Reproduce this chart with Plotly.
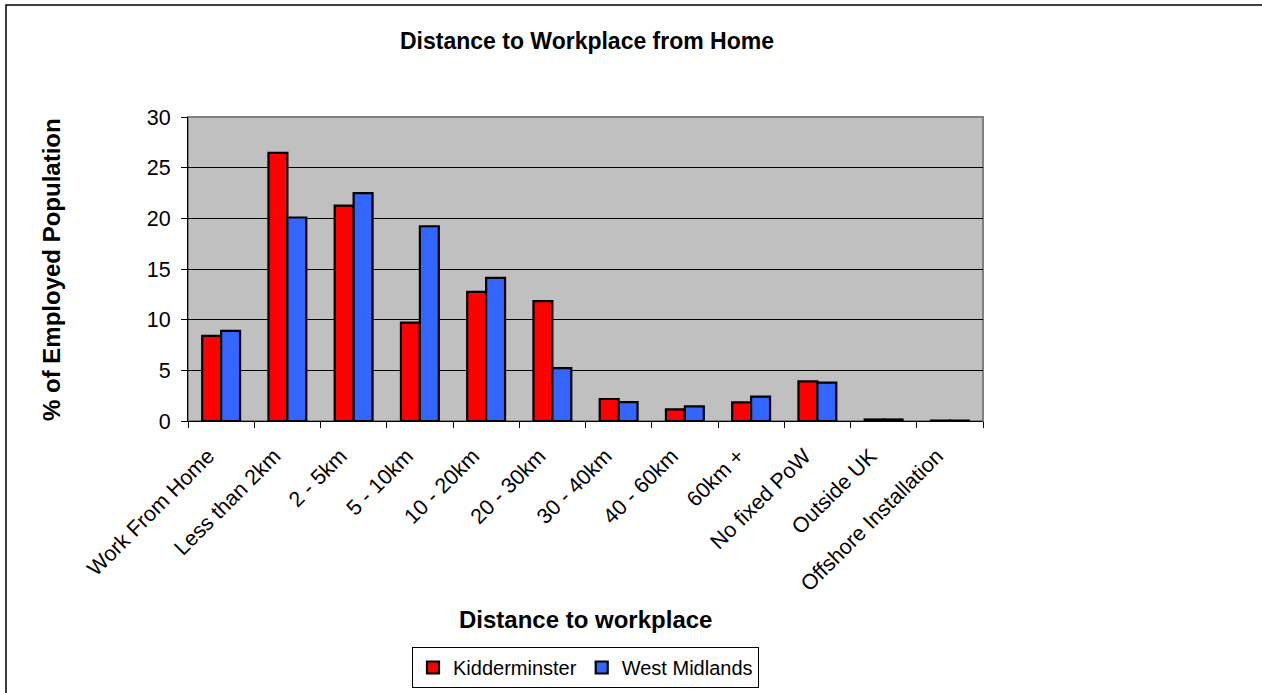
import plotly.graph_objects as go

categories = ["Work From Home", "Less than 2km", "2 - 5km", "5 - 10km", "10 - 20km",
              "20 - 30km", "30 - 40km", "40 - 60km", "60km +", "No fixed PoW",
              "Outside UK", "Offshore Installation"]
kidderminster = [8.4, 26.45, 21.26, 9.7, 12.75, 11.83, 2.17, 1.15, 1.84, 3.91, 0.15, 0.04]
west_midlands = [8.9, 20.08, 22.48, 19.22, 14.13, 5.22, 1.87, 1.45, 2.4, 3.78, 0.15, 0.04]

W, H = 1262, 693
L, R, T, B = 188, 983, 117, 421
pw, ph = R - L, B - T

def px(x):
    return (x - L) / pw

def py(y):
    return (B - y) / ph

FONT = "Liberation Sans, Arial, sans-serif"

fig = go.Figure()
fig.add_trace(go.Bar(x=categories, y=kidderminster, name="Kidderminster",
                     marker=dict(color="#FF0000", line=dict(color="black", width=2.2))))
fig.add_trace(go.Bar(x=categories, y=west_midlands, name="West Midlands",
                     marker=dict(color="#3366FF", line=dict(color="black", width=2.2))))

fig.update_layout(
    width=W, height=H,
    margin=dict(l=L, r=W - R, t=T, b=H - B, autoexpand=False),
    paper_bgcolor="white", plot_bgcolor="#C0C0C0",
    barmode="group", bargap=0.4286, bargroupgap=0,
    font=dict(family=FONT, size=21, color="black"),
    title=dict(text="<b>Distance to Workplace from Home</b>", x=587 / W, xanchor="center",
               y=1 - 41 / H, yanchor="middle", xref="container", yref="container",
               font=dict(family=FONT, size=23, color="black")),
    showlegend=True,
    legend=dict(orientation="h", x=0.5, xanchor="center", y=py(647), yanchor="top",
                bordercolor="black", borderwidth=1, bgcolor="white",
                font=dict(family=FONT, size=20, color="black"),
                itemwidth=30, tracegroupgap=0),
)

fig.update_xaxes(showline=True, linecolor="black", linewidth=1, mirror=False,
                 ticks="outside", ticklen=6, tickcolor="black", tickson="boundaries",
                 tickangle=-45, showgrid=False, ticklabelstandoff=13, ticklabelshift=-13,
                 tickfont=dict(family=FONT, size=21.5, color="black"))
fig.update_yaxes(range=[0, 30], dtick=5, showline=True, linecolor="black", linewidth=1,
                 ticks="outside", ticklen=6, tickcolor="black", ticklabelstandoff=6,
                 showgrid=True, gridcolor="black", gridwidth=1, zeroline=False,
                 tickfont=dict(family=FONT, size=21.5, color="black"))

# plot area frame (gray) and outer chart frame
fig.add_shape(type="rect", xref="paper", yref="paper", x0=0, x1=1, y0=0, y1=1,
              line=dict(color="#808080", width=2), layer="below")
fig.add_shape(type="rect", xref="paper", yref="paper", x0=px(6), x1=px(1275), y0=py(5), y1=py(710),
              line=dict(color="black", width=1.5), fillcolor="rgba(0,0,0,0)")

fig.add_annotation(text="<b>Distance to workplace</b>", xref="paper", yref="paper",
                   x=px(585.5), y=py(619), xanchor="center", yanchor="middle", showarrow=False,
                   font=dict(family=FONT, size=24, color="black"))
fig.add_annotation(text="<b>% of Employed Population</b>", xref="paper", yref="paper",
                   x=px(51), y=py(270), xanchor="center", yanchor="middle", showarrow=False,
                   textangle=-90, font=dict(family=FONT, size=24, color="black"))

fig.write_html("out.html", config={"displayModeBar": False},
               post_script="document.body.style.margin='0px';")
